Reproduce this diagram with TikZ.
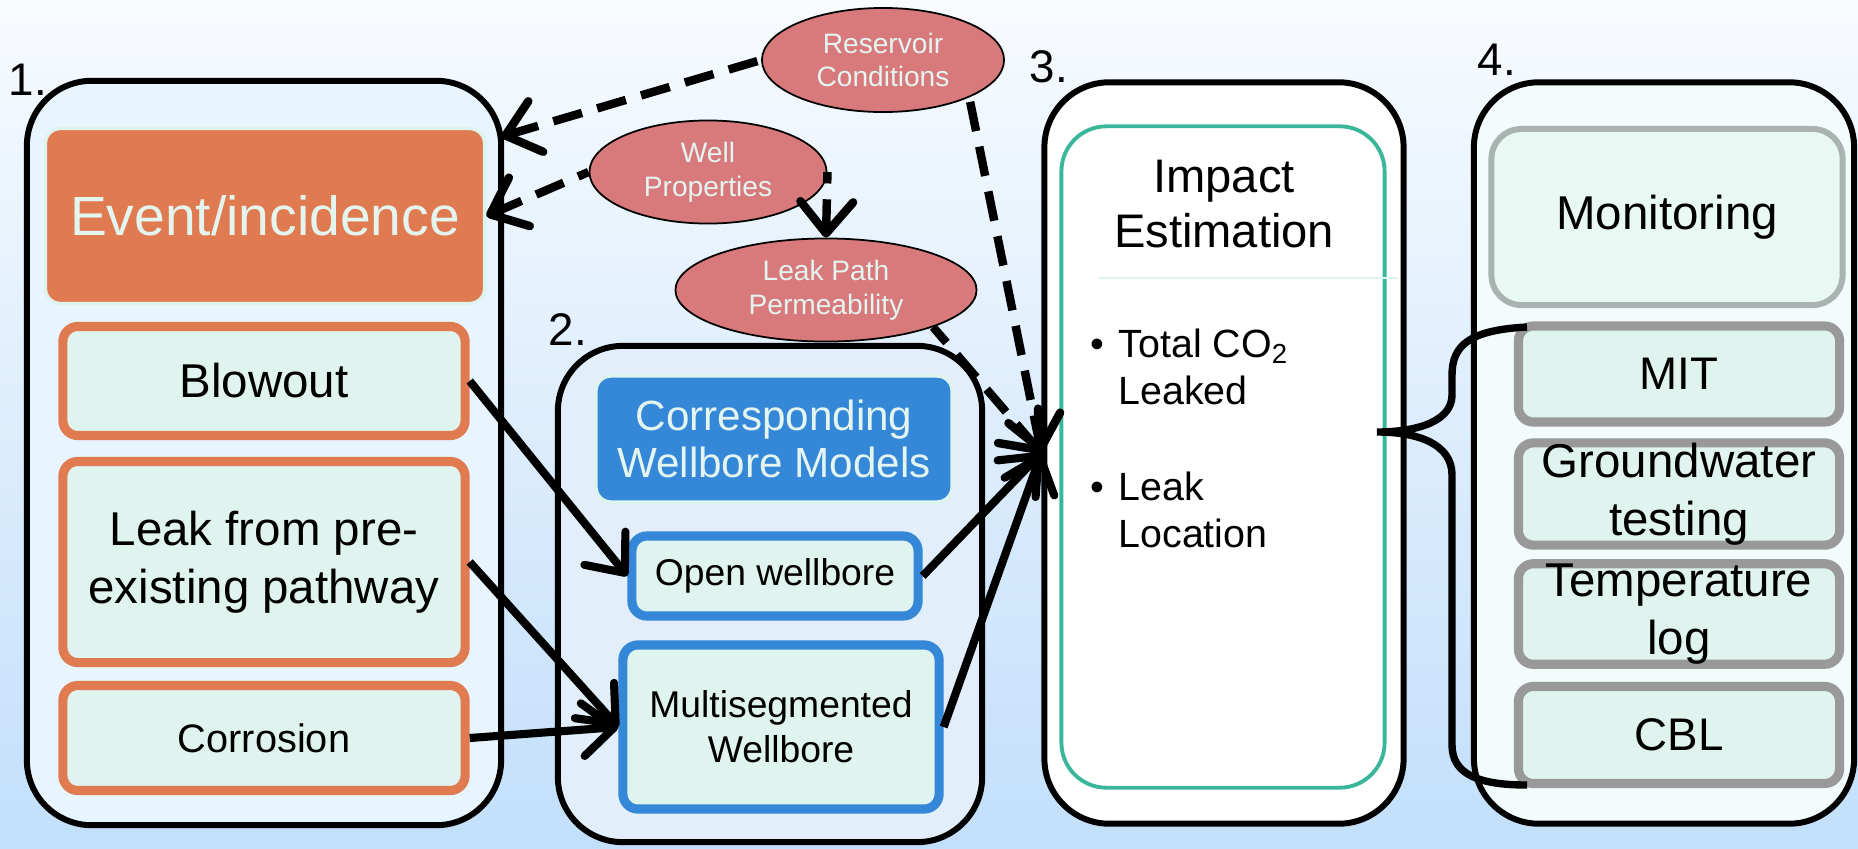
\documentclass[tikz,border=0pt]{standalone}
\usepackage{fontspec}
\setmainfont{Liberation Sans}
\usetikzlibrary{arrows.meta,shapes.geometric,calc}

\definecolor{skytop}{HTML}{F8FBFE}
\definecolor{skybot}{HTML}{C2DFFB}
\definecolor{grpone}{HTML}{E8F4FE}
\definecolor{grptwo}{HTML}{E2EEF9}
\definecolor{grpfour}{HTML}{F3FBFC}
\definecolor{mint}{HTML}{DFF4EF}
\definecolor{mintline}{HTML}{DDF3EE}
\definecolor{pale}{HTML}{E4F5F0}
\definecolor{evorange}{HTML}{E07A50}
\definecolor{wbblue}{HTML}{3587D8}
\definecolor{teal}{HTML}{3AB79A}
\definecolor{monline}{HTML}{A9B3B0}
\definecolor{monfill}{HTML}{E8F8F3}
\definecolor{rosy}{HTML}{D87A7C}

% font sizes
\def\fbig{\fontsize{13.5}{16.5}\selectfont}
\def\fmid{\fontsize{11.2}{13.4}\selectfont}
\def\fsmall{\fontsize{10.6}{12.8}\selectfont}

\begin{document}
\begin{tikzpicture}[x=0.01cm,y=-0.01cm,
    stage/.style={draw=black,line width=1.7pt,rounded corners=0.65cm},
    item/.style={line width=2.6pt,rounded corners=0.15cm,fill=mint,align=center,inner sep=0pt},
    head/.style={draw=mintline,line width=1pt,rounded corners=0.15cm,text=pale,align=center,inner sep=0pt},
    factor/.style={ellipse,draw=black,line width=0.5pt,fill=rosy,text=pale,align=center,
      inner sep=0pt,font=\fontsize{8}{9.6}\selectfont},
    flow/.style={line width=2.3pt,-{Straight Barb[length=9pt,width=15pt,round]}},
    % dashed ones are drawn from the tip back, so a dash always meets the head
    dep/.style={line width=2.4pt,dash pattern=on 8.5pt off 4.5pt,{Straight Barb[length=9pt,width=15pt,round]}-},
    num/.style={font=\fontsize{13}{15}\selectfont,inner sep=0pt}]

  % page and sky background
  \useasboundingbox (0,0) rectangle (1858,848);
  \shade[top color=skytop,bottom color=skybot] (0,0) rectangle (1858,848);

  % the four stages
  \node[stage,fill=grpone,minimum width=4.74cm,minimum height=7.44cm] (grp1) at (264,453) {};
  \node[stage,fill=grptwo,minimum width=4.24cm,minimum height=4.96cm] (grp2) at (770,594) {};
  \node[stage,fill=white,minimum width=3.59cm,minimum height=7.41cm] (grp3) at (1224,453) {};
  \node[stage,fill=grpfour,minimum width=3.80cm,minimum height=7.41cm] (grp4) at (1664,453) {};

  \node[num] (n1) at (28,80) {1.};
  \node[num] (n2) at (568,330) {2.};
  \node[num] (n3) at (1049,67) {3.};
  \node[num] (n4) at (1497,60) {4.};

  % stage 1: events
  \node[head,fill=evorange,minimum width=4.39cm,minimum height=1.75cm,
    font=\fontsize{15.7}{18}\selectfont] (event) at (265,216) {Event/incidence};
  \node[item,draw=evorange,minimum width=4.02cm,minimum height=1.09cm,font=\fbig] (blowout) at (264,381) {Blowout};
  \node[item,draw=evorange,minimum width=4.02cm,minimum height=2.01cm,font=\fbig] (leakpre) at (264,562) {Leak from pre-\\existing pathway};
  \node[item,draw=evorange,minimum width=4.02cm,minimum height=1.05cm,
    font=\fontsize{11.3}{13}\selectfont] (corrosion) at (264,738) {Corrosion};

  % stage 2: wellbore models
  \node[head,fill=wbblue,minimum width=3.56cm,minimum height=1.26cm,
    font=\fontsize{12}{13.4}\selectfont] (corresp) at (774,439) {Corresponding\\Wellbore Models};
  \node[item,draw=wbblue,minimum width=2.86cm,minimum height=0.80cm,font=\fsmall] (open) at (775,576) {Open wellbore};
  \node[item,draw=wbblue,minimum width=3.16cm,minimum height=1.64cm,font=\fsmall] (multi) at (781,727) {Multisegmented\\Wellbore};

  % stage 3: impact
  \node[draw=teal,fill=white,line width=1.1pt,rounded corners=0.45cm,
    minimum width=3.23cm,minimum height=6.61cm] (impact) at (1223,457) {};
  \node[align=center,inner sep=0pt,font=\fontsize{13.4}{15.6}\selectfont] (impacttitle) at (1224,204) {Impact\\Estimation};
  \draw[mintline,line width=0.7pt] (1099,278) -- (1398,278);
  \node[anchor=north west,align=left,inner sep=0pt,font=\fmid] (co2) at (1090,328)
    {\textbullet\hspace{4pt}Total CO\textsubscript{2}\\\hphantom{\textbullet\hspace{4pt}}Leaked};
  \node[anchor=north west,align=left,inner sep=0pt,font=\fmid] (where) at (1090,471)
    {\textbullet\hspace{4pt}Leak\\\hphantom{\textbullet\hspace{4pt}}Location};

  % stage 4: monitoring
  \node[draw=monline,fill=monfill,line width=1.7pt,rounded corners=0.3cm,inner sep=0pt,
    minimum width=3.51cm,minimum height=1.76cm,font=\fbig] (monitor) at (1667,217) {Monitoring};
  \node[item,draw=gray!80,minimum width=3.21cm,minimum height=0.96cm,font=\fontsize{13}{15}\selectfont] (mit) at (1679,374) {MIT};
  \node[item,draw=gray!80,minimum width=3.21cm,minimum height=0.96cm,font=\fbig] (gw) at (1679,494) {Groundwater\\testing};
  \node[item,draw=gray!80,minimum width=3.21cm,minimum height=0.96cm,font=\fbig] (temp) at (1679,614) {Temperature\\log};
  \node[item,draw=gray!80,minimum width=3.21cm,minimum height=0.97cm,font=\fontsize{13}{15}\selectfont] (cbl) at (1679,735) {CBL};

  % influencing factors
  \node[factor,minimum width=2.42cm,minimum height=1.04cm] (res) at (883,60) {Reservoir\\Conditions};
  \node[factor,minimum width=2.37cm,minimum height=1.03cm] (well) at (708,172) {Well\\Properties};
  \node[factor,minimum width=3.01cm,minimum height=1.03cm] (perm) at (826,290) {Leak Path\\Permeability};

  % dashed influences
  \draw[dep] ($(event.north east)+(15,10)$) -- (res.west);
  \draw[dep] (event.east) -- (well.west);
  \draw[dep] (perm.north) -- (well.east);
  \draw[dep] (grp3.west) -- (res.south east);
  \draw[dep] (grp3.west) -- (perm.south east);

  % event to model to impact
  \draw[flow] (blowout.east) -- (open.west);
  \draw[flow] (leakpre.east) -- (multi.west);
  \draw[flow] (corrosion.east) -- (multi.west);
  \draw[flow] (open.east) -- (grp3.west);
  \draw[flow] (multi.east) -- (grp3.west);

  % brace gathering the monitoring tools
  \coordinate (bracetop) at (1527,327);
  \coordinate (bracetip) at (1377,432);
  \coordinate (bracebot) at (1527,785);
  \draw[line width=2.1pt] (bracetop) .. controls (1470,330) and (1452,345) .. (1452,375)
    -- (1452,395) .. controls (1452,420) and (1420,432) .. (bracetip)
    .. controls (1420,432) and (1452,445) .. (1452,475)
    -- (1452,745) .. controls (1452,775) and (1480,785) .. (bracebot);
\end{tikzpicture}
\end{document}
